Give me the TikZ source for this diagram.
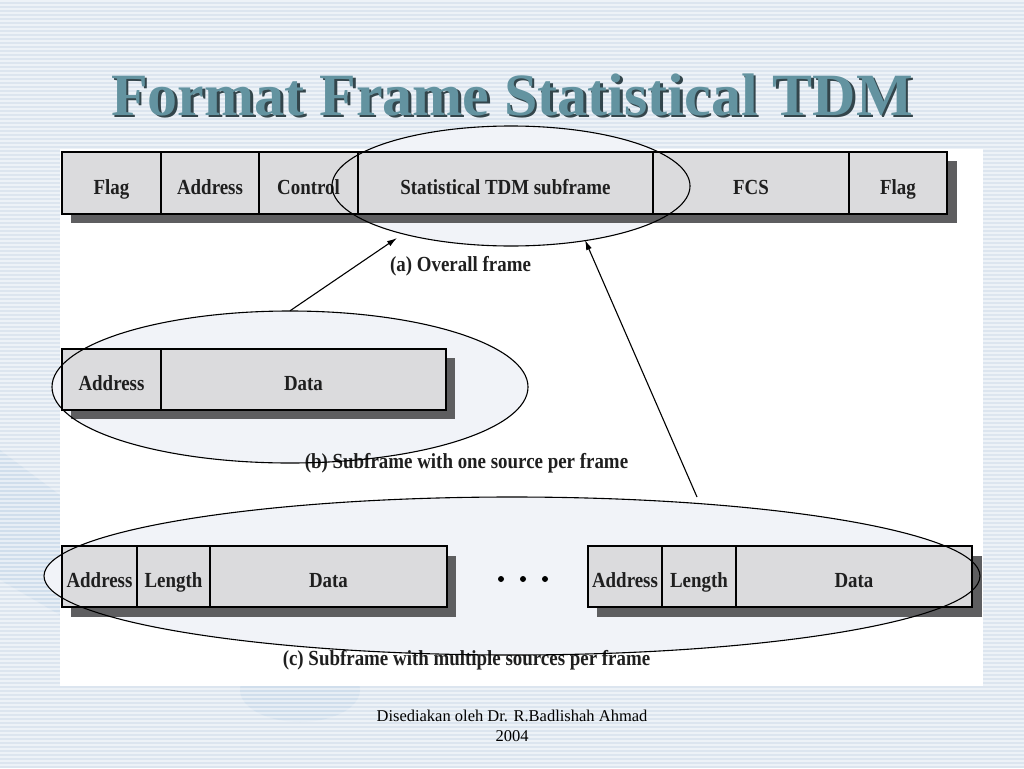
\documentclass[tikz,border=0pt]{standalone}
\usepackage{fontspec}
\setmainfont{Liberation Serif}
\usetikzlibrary{arrows.meta, shapes.geometric, positioning}
\definecolor{slidebg}{HTML}{DCE5EF}
\definecolor{swoosh}{HTML}{C9DAEA}
\definecolor{cellgray}{HTML}{DBDBDD}
\definecolor{shadowgray}{HTML}{5E5E60}
\definecolor{titleblue}{HTML}{6393A0}
\definecolor{titleshade}{HTML}{33454B}
\definecolor{ovalfill}{HTML}{F1F3F8}
\newcommand{\narrow}[1]{\scalebox{0.88}[1]{#1}}
\tikzset{
    cell/.style={draw, line width=2pt, fill=cellgray, text=black!88, minimum height=62pt,
        inner sep=0pt, text height=22pt, text depth=0pt, font=\bfseries\fontsize{21.5}{21.5}\selectfont},
    oval/.style={ellipse, fill=ovalfill, inner sep=0pt},
    ovalline/.style={draw, line width=1.1pt},
    caption/.style={anchor=base, text=black!88, font=\bfseries\fontsize{21.5}{21.5}\selectfont},
    pointer/.style={-{Latex[length=10pt,width=6pt]}, line width=1.1pt},
    headline/.style={anchor=base, font=\bfseries\fontsize{60}{60}\selectfont},
}
\begin{document}
\begin{tikzpicture}[x=1pt, y=-1pt]
    \useasboundingbox (0,0) rectangle (1024,768);
    % slide background
    \fill[slidebg] (0,0) rectangle (1024,768);
    \fill[swoosh, opacity=0.6] (0,450) -- (60,495) -- (60,615) -- (0,580) -- cycle;
    \fill[swoosh, opacity=0.6] (300,690) ellipse (60pt and 32pt);
    \foreach \y in {1,5,...,767}
        \draw[white, opacity=0.5, line width=1.6pt] (0,\y) -- (1024,\y);
    \fill[white] (60,149) rectangle (983,686);

    % ovals (tint first, outline later)
    \node[oval, minimum width=358pt, minimum height=120pt] (ellA) at (511,186) {};
    \node[oval, minimum width=476pt, minimum height=152pt] (ellB) at (290,387) {};
    \node[oval, minimum width=936pt, minimum height=158pt] (ellC) at (512,576) {};

    % (a) overall frame
    \fill[shadowgray] (71,161) rectangle (957,223);
    \node[cell, minimum width=99pt]  (flagL) at (111.5,183) {\narrow{Flag}};
    \node[cell, minimum width=98pt]  (addrA) at (210,183)   {\narrow{Address}};
    \node[cell, minimum width=99pt]  (ctrlA) at (308.5,183) {\narrow{Control}};
    \node[cell, minimum width=295pt] (subA)  at (505.5,183) {\narrow{Statistical TDM subframe}};
    \node[cell, minimum width=196pt] (fcsA)  at (751,183)   {\narrow{FCS}};
    \node[cell, minimum width=98pt]  (flagR) at (898,183)   {\narrow{Flag}};
    \node[caption] (capA) at (460.5,271) {\narrow{(a) Overall frame}};

    % (b) one source per frame
    \fill[shadowgray] (71,358) rectangle (455,419);
    \node[cell, minimum width=99pt, minimum height=61pt]  (addrB) at (111.5,379.5) {\narrow{Address}};
    \node[cell, minimum width=285pt, minimum height=61pt] (dataB) at (303.5,379.5) {\narrow{Data}};
    \node[caption] (capB) at (466.5,468) {\narrow{(b) Subframe with one source per frame}};

    % (c) multiple sources per frame
    \fill[shadowgray] (71,556) rectangle (456,617);
    \fill[shadowgray] (597,556) rectangle (982,617);
    \node[cell, minimum width=75pt, minimum height=61pt]  (addrC) at (99.5,576.5)  {\narrow{Address}};
    \node[cell, minimum width=73pt, minimum height=61pt]  (lenC)  at (173.5,576.5) {\narrow{Length}};
    \node[cell, minimum width=237pt, minimum height=61pt] (dataC) at (328.5,576.5) {\narrow{Data}};
    \fill (501,579) circle (3pt);
    \fill (523,579) circle (3pt);
    \fill (545,579) circle (3pt);
    \node[cell, minimum width=74pt, minimum height=61pt]  (addrD) at (625,576.5) {\narrow{Address}};
    \node[cell, minimum width=74pt, minimum height=61pt]  (lenD)  at (699,576.5) {\narrow{Length}};
    \node[cell, minimum width=236pt, minimum height=61pt] (dataD) at (854,576.5) {\narrow{Data}};
    \node[caption] (capC) at (466.5,665) {\narrow{(c) Subframe with multiple sources per frame}};

    % oval outlines
    \draw[ovalline] (ellA.center) ellipse (179pt and 60pt);
    \draw[ovalline] (ellB.center) ellipse (238pt and 76pt);
    \draw[ovalline] (ellC.center) ellipse (468pt and 79pt);

    % pointers
    \coordinate (headB) at (397,238);
    \coordinate (tailC) at (697,497);
    \coordinate (headC) at (585,240);
    \draw[pointer] (ellB.north) -- (headB);
    \draw[pointer] (tailC) -- (headC);

    % title and footer
    \node[headline, text=titleshade] (titleS) at (514.5,117.5) {Format Frame Statistical TDM};
    \node[headline, text=titleblue]  (title)  at (512,115)     {Format Frame Statistical TDM};
    \node[anchor=base, align=center, font=\fontsize{16.5}{20}\selectfont] (foot) at (512,741)
        {Disediakan oleh Dr. R.Badlishah Ahmad\\2004};
\end{tikzpicture}
\end{document}
